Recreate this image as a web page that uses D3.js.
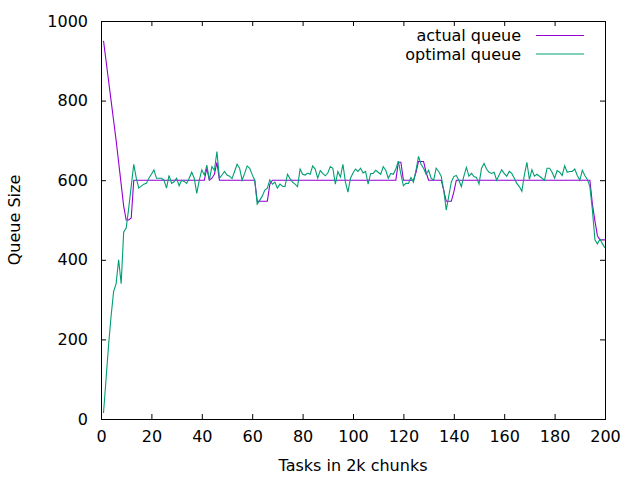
<!DOCTYPE html>
<html>
<head>
<meta charset="utf-8">
<script src="https://cdn.jsdelivr.net/npm/d3@7"></script>
<style>
  body { margin: 0; background: #fff; }
  text { font-family: "DejaVu Sans", sans-serif; font-size: 16px; fill: #000; }
</style>
</head>
<body>
<svg id="chart" width="640" height="480"></svg>
<script>
// tasks processed, one point per 2k chunk (x = 1..200)
var actualQueue = [
  950,900,850,800,750,700,645,590,535,500, 500,505,600,600,600,600,600,600,600,600,
  600,600,600,600,600,600,600,600,600,600, 600,600,600,600,600,600,600,600,600,600,
  600,630,600,605,615,645,600,600,600,600, 600,600,600,600,600,600,600,600,600,600,
  600,547,547,547,547,547,590,600,600,600, 600,600,600,600,600,600,600,600,600,600,
  600,600,600,600,600,600,600,600,600,600, 600,600,600,600,600,600,600,600,600,600,
  600,600,600,600,600,600,600,600,600,600, 600,600,600,600,600,600,600,645,645,600,
  600,600,600,600,620,647,647,647,620,600, 600,600,600,600,600,575,547,547,547,570,
  600,600,600,600,600,600,600,600,600,600, 600,600,600,600,600,600,600,600,600,600,
  600,600,600,600,600,600,600,600,600,600, 600,600,600,600,600,600,600,600,600,600,
  600,600,600,600,600,600,600,600,600,600, 600,600,600,600,540,498,460,450,450,450
];
var optimalQueue = [
  15,100,185,258,320,340,400,340,470,480, 530,585,640,605,580,585,590,592,605,615,
  626,605,605,605,600,580,612,592,596,605, 586,600,597,592,605,620,605,567,600,626,
  613,638,600,634,625,672,605,613,622,613, 610,604,622,640,630,600,617,636,630,614,
  600,540,550,560,575,580,601,590,595,580, 590,585,584,615,604,595,590,584,628,615,
  613,618,615,636,628,605,624,617,611,618, 634,630,590,622,608,640,595,570,605,618,
  628,622,630,618,622,590,617,617,625,620, 615,634,625,605,617,615,628,648,615,586,
  592,592,607,595,625,660,640,630,615,625, 605,600,630,622,610,575,525,560,595,609,
  612,600,584,610,632,610,617,609,607,590, 630,642,628,620,617,620,600,613,626,617,
  610,622,617,605,592,584,572,613,645,602, 626,610,615,610,605,600,630,630,620,605,
  624,620,612,636,620,622,622,628,612,600, 625,612,602,584,525,450,440,452,440,430
];
var xTicks = [0,20,40,60,80,100,120,140,160,180,200];
var yTicks = [0,200,400,600,800,1000];
var seriesNames = ['actual queue', 'optimal queue'];
var seriesColors = ['#9400d3', '#009e73'];

var margin = {left: 101, right: 35, top: 21, bottom: 61};
var width = 640, height = 480;
var svg = d3.select('#chart');

var x = d3.scaleLinear().domain([0, 200]).range([margin.left, width - margin.right]);
var y = d3.scaleLinear().domain([0, 1000]).range([height - margin.bottom, margin.top]);

// gnuplot style: ticks on all four sides, pointing in
var axisGroup = function(axis, tx, ty){
  var g = svg.append('g').attr('transform', 'translate(' + tx + ',' + ty + ')').call(axis);
  g.select('.domain').remove();
  g.selectAll('.tick line').attr('stroke', '#000');
  g.selectAll('.tick text').style('font-size', '16px').style('font-family', '"DejaVu Sans", sans-serif').attr('fill', '#000');
  return g;
};

var plain = d3.format('d');
axisGroup(d3.axisBottom(x).tickValues(xTicks).tickFormat(plain).tickSize(-5).tickPadding(12), 0, y(0));
axisGroup(d3.axisLeft(y).tickValues(yTicks).tickFormat(plain).tickSize(-5).tickPadding(13), x(0), 0);
axisGroup(d3.axisTop(x).tickValues(xTicks).tickSize(-5).tickFormat(''), 0, y(1000));
axisGroup(d3.axisRight(y).tickValues(yTicks).tickSize(-5).tickFormat(''), x(200), 0);

var line = d3.line()
  .x(function(d, i){ return x(i + 1); })
  .y(function(d){ return y(d); });

[actualQueue, optimalQueue].forEach(function(series, k){
  svg.append('path')
    .datum(series)
    .attr('fill', 'none')
    .attr('stroke', seriesColors[k])
    .attr('stroke-width', 1.1)
    .attr('d', line);
});

svg.append('rect')
  .attr('x', x(0) + 0.5).attr('y', y(1000) + 0.5)
  .attr('width', x(200) - x(0)).attr('height', y(0) - y(1000))
  .attr('fill', 'none').attr('stroke', '#000');

// key, top right
var legend = svg.append('g').selectAll('g').data(seriesNames).enter().append('g');
legend.append('text')
  .attr('x', 521).attr('y', function(d, i){ return 41 + i * 18.5; })
  .attr('text-anchor', 'end')
  .text(function(d){ return d; });
legend.append('line')
  .attr('x1', 536).attr('x2', 584)
  .attr('y1', function(d, i){ return 35.5 + i * 18.5; })
  .attr('y2', function(d, i){ return 35.5 + i * 18.5; })
  .attr('stroke', function(d, i){ return seriesColors[i]; });

svg.append('text')
  .attr('x', (x(0) + x(200)) / 2).attr('y', 471)
  .attr('text-anchor', 'middle')
  .text('Tasks in 2k chunks');

svg.append('text')
  .attr('transform', 'translate(20,' + y(500) + ') rotate(-90)')
  .attr('text-anchor', 'middle')
  .text('Queue Size');
</script>
</body>
</html>
